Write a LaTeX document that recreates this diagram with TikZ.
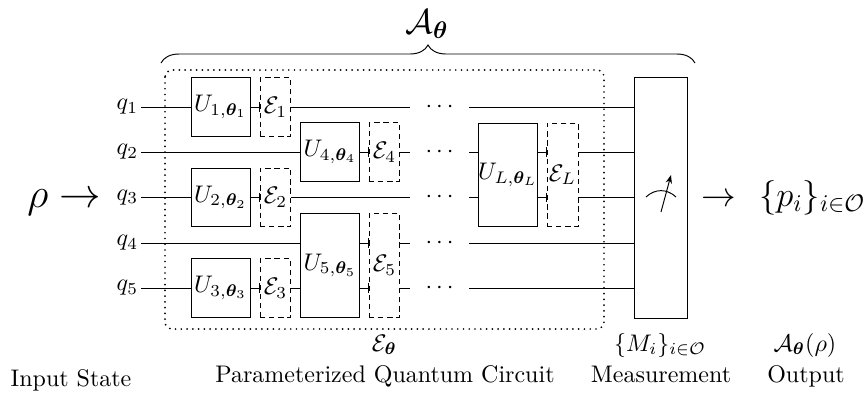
\documentclass[tikz,border=0pt]{standalone}
\usepackage{bm}
\usetikzlibrary{arrows.meta,decorations.pathreplacing}

\begin{document}
\begin{tikzpicture}[x=0.4167pt,y=-0.4167pt]
\useasboundingbox (0,0) rectangle (868,394);
\tikzset{GateStyle/.style ={draw, fill=white, inner sep=0, minimum width=24.6pt, minimum height=24.2pt}}
\tikzset{TallGateStyle/.style ={GateStyle, minimum height=43pt}}
\tikzset{NoiseStyle/.style ={draw, dash pattern=on 2.2pt off 1.6pt, inner sep=0, minimum width=12.9pt, minimum height=24.2pt}}
\tikzset{TallNoiseStyle/.style ={NoiseStyle, minimum height=43pt}}
\tikzset{DotsStyle/.style ={inner sep=0, minimum width=24.6pt}}
\tikzset{LabelStyle/.style ={anchor=east, inner sep=1pt}}
\tikzset{TickStyle/.style ={-{Bar[width=4pt]}}}
\tikzset{FrameStyle/.style ={line width=0.8pt, line cap=round, dash pattern=on 0pt off 2.4pt, rounded corners=3pt}}
% wire labels
\node[LabelStyle] (q1) at (141,107) {$q_1$};
\node[LabelStyle] (q2) at (141,152) {$q_2$};
\node[LabelStyle] (q3) at (141,197.5) {$q_3$};
\node[LabelStyle] (q4) at (141,243) {$q_4$};
\node[LabelStyle] (q5) at (141,288) {$q_5$};
% gates and noise channels
\node[GateStyle] (U1) at (220.5,107) {$U_{1,\bm{\theta}_1}$};
\node[NoiseStyle] (E1) at (275.5,107) {$\mathcal{E}_1$};
\node[GateStyle] (U2) at (220.5,197.5) {$U_{2,\bm{\theta}_2}$};
\node[NoiseStyle] (E2) at (275.5,197.5) {$\mathcal{E}_2$};
\node[GateStyle] (U3) at (220.5,288) {$U_{3,\bm{\theta}_3}$};
\node[NoiseStyle] (E3) at (275.5,288) {$\mathcal{E}_3$};
\node[GateStyle] (U4) at (330,152) {$U_{4,\bm{\theta}_4}$};
\node[NoiseStyle] (E4) at (384.5,152) {$\mathcal{E}_4$};
\node[TallGateStyle] (U5) at (330,265.5) {$U_{5,\bm{\theta}_5}$};
\node[TallNoiseStyle] (E5) at (384.5,265.5) {$\mathcal{E}_5$};
\node[TallGateStyle] (UL) at (508,174.75) {$U_{L,\bm{\theta}_L}$};
\node[TallNoiseStyle] (EL) at (562.5,174.75) {$\mathcal{E}_L$};
\node[draw, minimum width=21.7pt, minimum height=100.4pt] (M) at (661,198) {};
% dots
\node[DotsStyle] (d1) at (439.5,107) {$\cdots$};
\node[DotsStyle] (d2) at (439.5,152) {$\cdots$};
\node[DotsStyle] (d3) at (439.5,197.5) {$\cdots$};
\node[DotsStyle] (d4) at (439.5,243) {$\cdots$};
\node[DotsStyle] (d5) at (439.5,288) {$\cdots$};
% wires
\draw (q1) -- (U1);
\draw[TickStyle] (U1) -- (E1);
\draw (E1) -- (d1);
\draw (d1) -- (M.west |- d1);
\draw (q2) -- (U4);
\draw[TickStyle] (U4) -- (E4);
\draw (E4) -- (d2);
\draw (d2) -- (UL.west |- d2);
\draw[TickStyle] (UL.east |- d2) -- (EL.west |- d2);
\draw (EL.east |- d2) -- (M.west |- d2);
\draw (q3) -- (U2);
\draw[TickStyle] (U2) -- (E2);
\draw (E2) -- (d3);
\draw (d3) -- (UL.west |- d3);
\draw[TickStyle] (UL.east |- d3) -- (EL.west |- d3);
\draw (EL.east |- d3) -- (M.west |- d3);
\draw (q4) -- (U5.west |- q4);
\draw[TickStyle] (U5.east |- q4) -- (E5.west |- q4);
\draw (E5.east |- d4) -- (d4);
\draw (d4) -- (M.west |- d4);
\draw (q5) -- (U3);
\draw[TickStyle] (U3) -- (E3);
\draw (E3) -- (U5.west |- q5);
\draw[TickStyle] (U5.east |- q5) -- (E5.west |- q5);
\draw (E5.east |- d5) -- (d5);
\draw (d5) -- (M.west |- d5);
% meter
\draw (646,197) .. controls (655,188.5) and (667,188.5) .. (676,197);
\draw[-{Stealth[length=3.5pt]}] (661,212) -- (671,175);
% frame and brace
\draw[FrameStyle] (165,70) rectangle (604,329);
\draw[decorate, decoration={brace, amplitude=7.5pt}] (161,63) -- (695,63);
\node[anchor=base, inner sep=0] (Atop) at (427,33) {\Large $\mathcal{A}_{\bm{\theta}}$};
% input and output
\node[anchor=base west, inner sep=0] (rho) at (27,207) {\LARGE $\rho\rightarrow$};
\node[anchor=base west, inner sep=0] (out) at (701,206) {\Large $\rightarrow\mkern7mu\{p_i\}_{i\in\mathcal{O}}$};
% captions
\node[anchor=base] (Etheta) at (384.5,351) {$\mathcal{E}_{\bm{\theta}}$};
\node[anchor=base] (Mset) at (660,351) {$\{M_i\}_{i\in\mathcal{O}}$};
\node[anchor=base] (Arho) at (805,351) {$\mathcal{A}_{\bm{\theta}}(\rho)$};
\node[anchor=base] (lin) at (71,386) {Input State};
\node[anchor=base] (lpqc) at (385,382) {Parameterized Quantum Circuit};
\node[anchor=base] (lmeas) at (661,382) {Measurement};
\node[anchor=base] (lout) at (806,382) {Output};
\end{tikzpicture}
\end{document}
